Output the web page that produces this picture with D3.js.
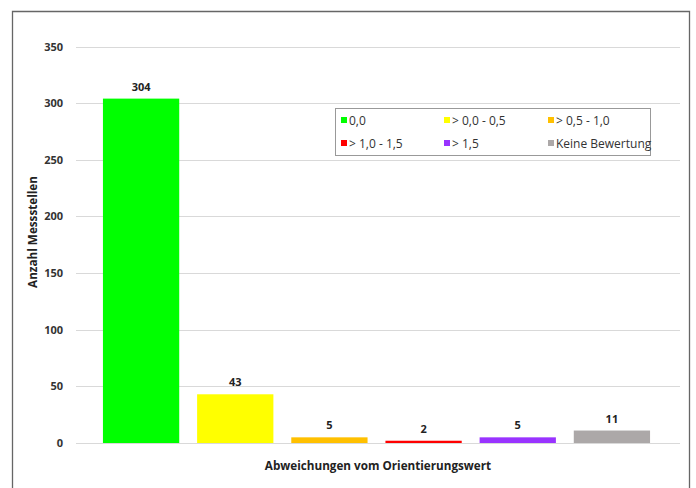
<!DOCTYPE html>
<html><head><meta charset="utf-8">
<script src="https://cdn.jsdelivr.net/npm/d3@7"></script>
<style>body{margin:0;background:#fff}svg{display:block}</style>
</head><body>
<script>
const categories = ["0,0", "> 0,0 - 0,5", "> 0,5 - 1,0", "> 1,0 - 1,5", "> 1,5", "Keine Bewertung"];
const values = [304, 43, 5, 2, 5, 11];
const colors = ["#00ff00", "#ffff00", "#ffc000", "#ff0000", "#9933ff", "#aca8a8"];
const yTicks = [0, 50, 100, 150, 200, 250, 300, 350];

const W = 696, H = 488;
const svg = d3.select("body").append("svg").attr("width", W).attr("height", H);
const font = "'Open Sans', 'Noto Sans', sans-serif";

// frame
svg.append("path").attr("d", `M12.5,${H} V11.5 H689.5 V${H}`).attr("fill", "none").attr("stroke", "#666").attr("stroke-width", 1.3);

const y = d3.scaleLinear().domain([0, 350]).range([443, 46.5]);
const x = d3.scaleBand().domain(categories).range([94, 659]).paddingInner(0.19).paddingOuter(0.095);

// grid
svg.append("g").selectAll("line").data(yTicks).join("line")
  .attr("x1", 76).attr("x2", 680)
  .attr("y1", d => Math.round(y(d)) + 0.5).attr("y2", d => Math.round(y(d)) + 0.5)
  .attr("stroke", "#d9d9d9").attr("stroke-width", 1);

// y axis labels
const yAxis = d3.axisLeft(y).tickValues(yTicks).tickSize(0).tickPadding(0);
const gy = svg.append("g").attr("transform", "translate(63,0)").call(yAxis);
gy.select(".domain").remove();
gy.selectAll("text").attr("font-family", font).attr("font-size", 11).attr("font-weight", "bold").attr("fill", "#333");

// bars
svg.append("g").selectAll("rect").data(values).join("rect")
  .attr("x", (d, i) => x(categories[i])).attr("width", x.bandwidth())
  .attr("y", d => y(d)).attr("height", d => y(0) - y(d))
  .attr("fill", (d, i) => colors[i]);

// value labels
svg.append("g").selectAll("text").data(values).join("text")
  .attr("x", (d, i) => x(categories[i]) + x.bandwidth() / 2)
  .attr("y", d => y(d) - 8)
  .attr("text-anchor", "middle")
  .attr("font-family", font).attr("font-size", 11).attr("font-weight", "bold").attr("fill", "#222")
  .text(d => d);

// axis titles
svg.append("text").attr("x", 378).attr("y", 470).attr("text-anchor", "middle")
  .attr("font-family", font).attr("font-size", 11.7).attr("font-weight", "bold").attr("fill", "#222")
  .text("Abweichungen vom Orientierungswert");
svg.append("text").attr("transform", "translate(37,232) rotate(-90)").attr("text-anchor", "middle")
  .attr("font-family", font).attr("font-size", 11.7).attr("font-weight", "bold").attr("fill", "#222")
  .text("Anzahl Messstellen");

// legend
const lg = svg.append("g");
lg.append("rect").attr("x", 335.5).attr("y", 108.5).attr("width", 315).attr("height", 47)
  .attr("fill", "#fff").attr("stroke", "#999");
const colX = [341, 444, 548];
const rowY = [120, 143];
categories.forEach((c, i) => {
  const cx = colX[i % 3], cy = rowY[Math.floor(i / 3)];
  lg.append("rect").attr("x", cx).attr("y", cy - 3).attr("width", 6).attr("height", 6).attr("fill", colors[i]);
  lg.append("text").attr("x", cx + 8).attr("y", cy + 4.5)
    .attr("font-family", font).attr("font-size", 12).attr("fill", "#333").text(c);
});
</script>
</body></html>
